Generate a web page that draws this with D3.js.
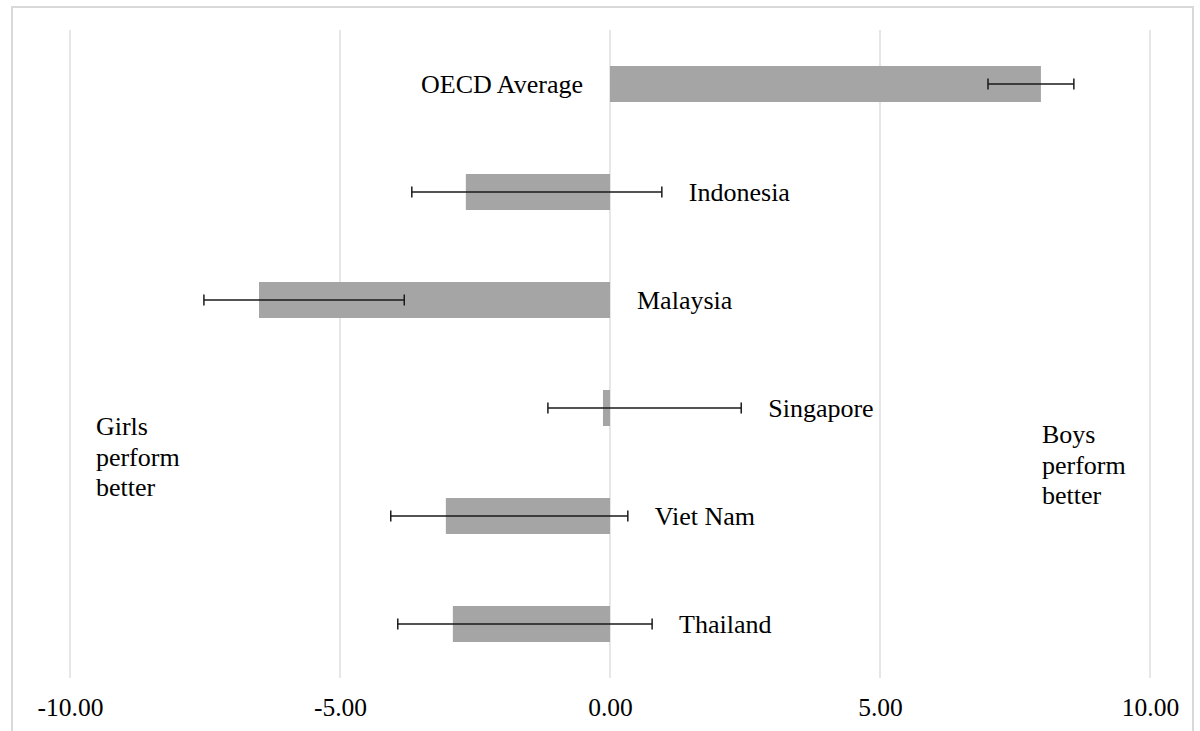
<!DOCTYPE html>
<html>
<head>
<meta charset="utf-8">
<script src="https://cdn.jsdelivr.net/npm/d3@7"></script>
<style>
  html, body { margin: 0; padding: 0; background: #ffffff; }
  svg { display: block; }
  text { font-family: "Liberation Serif", "Times New Roman", serif; fill: #000; }
</style>
</head>
<body>
<svg id="chart" width="1200" height="731"></svg>
<script>
// Gender gap in scores (boys minus girls), with confidence intervals
const countries = ["OECD Average", "Indonesia", "Malaysia", "Singapore", "Viet Nam", "Thailand"];
const gap       = [7.98, -2.67, -6.50, -0.13, -3.04, -2.91];
const ciLow     = [7.00, -3.67, -7.52, -1.15, -4.06, -3.93];
const ciHigh    = [8.59,  0.96, -3.81,  2.43,  0.33,  0.78];
const tickValues = [-10, -5, 0, 5, 10];
const sideNotes = [
  { text: ["Girls", "perform", "better"], at: -9.52 },
  { text: ["Boys", "perform", "better"], at: 8.0 }
];

const svg = d3.select("#chart");
const plot = { left: 70, right: 1150, top: 30, bottom: 678 };

// outer chart frame
svg.append("rect")
  .attr("x", 12).attr("y", 7)
  .attr("width", 1181).attr("height", 740)
  .attr("fill", "none")
  .attr("stroke", "#d9d9d9")
  .attr("stroke-width", 2);

const x = d3.scaleLinear().domain([-10, 10]).range([plot.left, plot.right]);
const y = d3.scaleBand().domain(countries).range([plot.top, plot.bottom]).paddingInner(2/3).paddingOuter(1/3);

// vertical gridlines
svg.append("g").selectAll("line")
  .data(tickValues)
  .join("line")
  .attr("x1", d => x(d)).attr("x2", d => x(d))
  .attr("y1", plot.top).attr("y2", plot.bottom)
  .attr("stroke", "#d9d9d9")
  .attr("stroke-width", 1.3);

// tick labels, plain hyphen for negatives
const fmt = d => (d < 0 ? "-" : "") + Math.abs(d).toFixed(2);
const axis = d3.axisBottom(x).tickValues(tickValues).tickFormat(fmt).tickSize(0).tickPadding(0);
const gAxis = svg.append("g").attr("transform", `translate(0, ${plot.bottom})`).call(axis);
gAxis.select(".domain").remove();
gAxis.selectAll("text")
  .attr("y", 38)
  .attr("dy", 0)
  .style("font-family", '"Liberation Serif", "Times New Roman", serif')
  .style("font-size", "25.5px")
  .attr("fill", "#000");

const rows = countries.map((c, i) => ({ name: c, v: gap[i], lo: ciLow[i], hi: ciHigh[i] }));

// bars
svg.append("g").selectAll("rect")
  .data(rows)
  .join("rect")
  .attr("x", d => x(Math.min(0, d.v)))
  .attr("width", d => Math.abs(x(d.v) - x(0)))
  .attr("y", d => y(d.name))
  .attr("height", y.bandwidth())
  .attr("fill", "#a5a5a5");

// error bars
const eb = svg.append("g").attr("stroke", "#1a1a1a").attr("stroke-width", 1.5);
rows.forEach(d => {
  const cy = y(d.name) + y.bandwidth() / 2;
  eb.append("line").attr("x1", x(d.lo)).attr("x2", x(d.hi)).attr("y1", cy).attr("y2", cy);
  [d.lo, d.hi].forEach(v => {
    eb.append("line").attr("x1", x(v)).attr("x2", x(v)).attr("y1", cy - 5.5).attr("y2", cy + 5.5);
  });
});

// category labels on the opposite side of the error bar
svg.append("g").selectAll("text")
  .data(rows)
  .join("text")
  .attr("x", d => d.v >= 0 ? x(Math.min(0, d.lo)) - 27 : x(Math.max(0, d.hi)) + 27)
  .attr("y", d => y(d.name) + y.bandwidth() / 2 + 9)
  .attr("text-anchor", d => d.v >= 0 ? "end" : "start")
  .style("font-size", "26px")
  .text(d => d.name);

// side notes
sideNotes.forEach((n, k) => {
  const t = svg.append("text")
    .attr("x", x(n.at))
    .attr("y", k === 0 ? 435 : 443)
    .style("font-size", "26px");
  n.text.forEach((line, i) => {
    t.append("tspan").attr("x", x(n.at)).attr("dy", i === 0 ? 0 : 30.5).text(line);
  });
});
</script>
</body>
</html>
